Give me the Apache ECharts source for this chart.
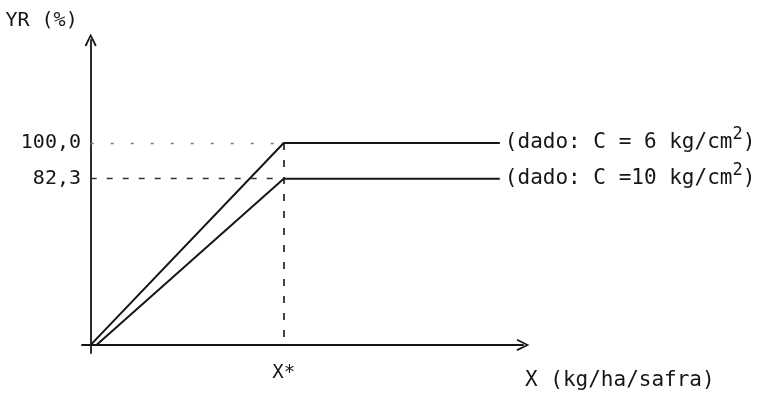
<!DOCTYPE html>
<html>
<head>
<meta charset="utf-8">
<script src="https://cdn.jsdelivr.net/npm/echarts@6/dist/echarts.min.js"></script>
<style>
  html, body { margin: 0; padding: 0; background: #fff; }
  #chart { width: 773px; height: 395px; }
</style>
</head>
<body>
<div id="chart"></div>
<script>
// dados (X* = 1)
const xStar = 1;
const xEnd = 2.12;
const serieC6 = [[0, 0], [xStar, 100], [xEnd, 100]];
const serieC10 = [[0.03, 0], [xStar, 82.3], [xEnd, 82.3]];
const yTicks = [82.3, 100];
const xTicks = [xStar];
const labelC6 = '(dado: C = 6 kg/cm{sup|2})';
const labelC10 = '(dado: C =10 kg/cm{sup|2})';

const FONT = 'DejaVu Sans Mono';
const INK = '#161616';

// seta aberta (chevron) para as pontas dos eixos
const chevron = 'path://M0,10 L5,0 L10,10 L8.6,10.7 L5,3 L1.4,10.7 Z';

const endLabel = (text) => ({
  show: true,
  formatter: text,
  distance: 5,
  color: INK,
  fontFamily: FONT,
  fontSize: 21,
  rich: {
    sup: { fontFamily: FONT, fontSize: 17, color: INK, padding: [0, 0, 16, 0] }
  }
});

const chart = echarts.init(document.getElementById('chart'));
chart.setOption({
  animation: false,
  backgroundColor: '#fff',
  grid: { left: 82, right: 250, top: 40, bottom: 42 },
  xAxis: {
    type: 'value',
    min: -0.045,
    max: 2.24,
    splitLine: { show: false },
    axisTick: { show: false },
    axisLine: {
      onZero: true,
      symbol: ['none', chevron],
      symbolSize: [12, 13],
      lineStyle: { color: INK, width: 1.8 }
    },
    axisLabel: {
      customValues: xTicks,
      formatter: () => 'X*',
      margin: 11,
      color: INK,
      fontFamily: FONT,
      fontSize: 19
    },
    name: 'X (kg/ha/safra)',
    nameLocation: 'end',
    nameGap: 2,
    nameTextStyle: {
      color: INK, fontFamily: FONT, fontSize: 21,
      align: 'left', verticalAlign: 'top', padding: [25, 0, 0, 0]
    }
  },
  yAxis: {
    type: 'value',
    min: -4,
    max: 151,
    splitLine: { show: false },
    axisTick: { show: false },
    axisLine: {
      onZero: true,
      symbol: ['none', chevron],
      symbolSize: [12, 13],
      lineStyle: { color: INK, width: 1.8 }
    },
    axisLabel: {
      customValues: yTicks,
      formatter: (v) => v.toFixed(1).replace('.', ','),
      margin: 1,
      color: INK,
      fontFamily: FONT,
      fontSize: 20
    },
    name: 'YR (%)',
    nameLocation: 'end',
    nameGap: 9,
    nameTextStyle: {
      color: INK, fontFamily: FONT, fontSize: 20,
      align: 'right', padding: [0, 13, 0, 0]
    }
  },
  series: [
    {
      name: 'C = 6',
      type: 'line',
      data: serieC6,
      symbol: 'none',
      lineStyle: { color: INK, width: 2 },
      endLabel: endLabel(labelC6),
      markLine: {
        silent: true,
        symbol: 'none',
        label: { show: false },
        data: [
          [
            { coord: [0, 100], lineStyle: { color: '#777', width: 1.3, type: [3, 17] } },
            { coord: [xStar, 100] }
          ],
          [
            { coord: [xStar, 100], lineStyle: { color: INK, width: 1.6, type: [7, 10] } },
            { coord: [xStar, 0] }
          ]
        ]
      }
    },
    {
      name: 'C = 10',
      type: 'line',
      data: serieC10,
      symbol: 'none',
      lineStyle: { color: INK, width: 2 },
      endLabel: endLabel(labelC10),
      markLine: {
        silent: true,
        symbol: 'none',
        label: { show: false },
        data: [
          [
            { coord: [0, 82.3], lineStyle: { color: '#333', width: 1.3, type: [6, 10] } },
            { coord: [xStar, 82.3] }
          ]
        ]
      }
    }
  ]
});
</script>
</body>
</html>
